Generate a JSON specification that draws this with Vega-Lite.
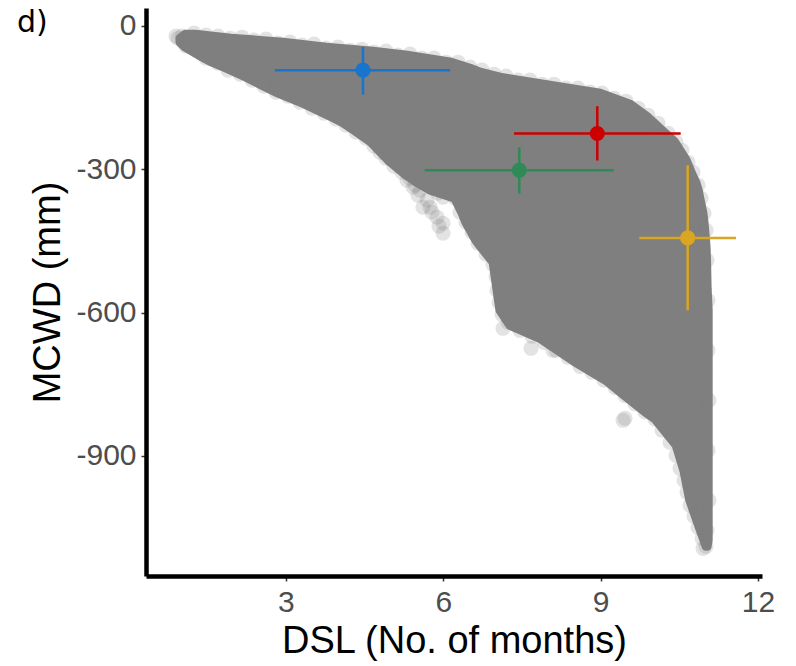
{
  "$schema": "https://vega.github.io/schema/vega-lite/v6.json",
  "width": 616,
  "height": 568,
  "padding": {"left": 146, "top": 8, "right": 34, "bottom": 90},
  "autosize": {"type": "none"},
  "background": "white",
  "title": {
    "text": "d)",
    "anchor": "start",
    "frame": "group",
    "orient": "top",
    "offset": 0,
    "dx": -129,
    "dy": 54,
    "baseline": "alphabetic",
    "font": "DejaVu Sans",
    "fontSize": 30,
    "fontWeight": "normal",
    "color": "black"
  },
  "datasets": {
    "cloud": [
      {"mcwd": -17.8, "lo": 1.08, "hi": 1.27},
      {"mcwd": -26.2, "lo": 0.98, "hi": 1.95},
      {"mcwd": -34.5, "lo": 0.98, "hi": 2.94},
      {"mcwd": -45.0, "lo": 1.08, "hi": 3.77},
      {"mcwd": -53.3, "lo": 1.21, "hi": 4.66},
      {"mcwd": -61.7, "lo": 1.34, "hi": 5.31},
      {"mcwd": -76.4, "lo": 1.59, "hi": 6.15},
      {"mcwd": -88.9, "lo": 1.86, "hi": 6.51},
      {"mcwd": -97.3, "lo": 2.03, "hi": 6.70},
      {"mcwd": -107.7, "lo": 2.24, "hi": 7.08},
      {"mcwd": -124.5, "lo": 2.54, "hi": 8.03},
      {"mcwd": -141.2, "lo": 2.85, "hi": 8.99},
      {"mcwd": -164.2, "lo": 3.36, "hi": 9.56},
      {"mcwd": -191.4, "lo": 3.88, "hi": 9.90},
      {"mcwd": -201.9, "lo": 4.07, "hi": 10.00},
      {"mcwd": -218.6, "lo": 4.30, "hi": 10.17},
      {"mcwd": -241.6, "lo": 4.60, "hi": 10.40},
      {"mcwd": -260.5, "lo": 4.77, "hi": 10.51},
      {"mcwd": -281.4, "lo": 4.95, "hi": 10.63},
      {"mcwd": -310.7, "lo": 5.27, "hi": 10.74},
      {"mcwd": -329.5, "lo": 5.52, "hi": 10.82},
      {"mcwd": -344.1, "lo": 5.75, "hi": 10.86},
      {"mcwd": -360.9, "lo": 6.22, "hi": 10.89},
      {"mcwd": -392.3, "lo": 6.36, "hi": 10.95},
      {"mcwd": -411.1, "lo": 6.43, "hi": 10.97},
      {"mcwd": -448.7, "lo": 6.62, "hi": 11.00},
      {"mcwd": -463.4, "lo": 6.72, "hi": 11.01},
      {"mcwd": -494.8, "lo": 6.95, "hi": 11.02},
      {"mcwd": -549.2, "lo": 7.02, "hi": 11.03},
      {"mcwd": -595.2, "lo": 7.08, "hi": 11.05},
      {"mcwd": -626.6, "lo": 7.27, "hi": 11.05},
      {"mcwd": -653.8, "lo": 7.84, "hi": 11.05},
      {"mcwd": -701.9, "lo": 8.49, "hi": 11.05},
      {"mcwd": -743.7, "lo": 9.12, "hi": 11.05},
      {"mcwd": -774.0, "lo": 9.46, "hi": 11.05},
      {"mcwd": -808.0, "lo": 9.85, "hi": 11.05},
      {"mcwd": -822.9, "lo": 10.04, "hi": 11.05},
      {"mcwd": -877.6, "lo": 10.44, "hi": 11.05},
      {"mcwd": -932.0, "lo": 10.59, "hi": 11.05},
      {"mcwd": -992.7, "lo": 10.70, "hi": 11.05},
      {"mcwd": -1049.2, "lo": 10.88, "hi": 11.05},
      {"mcwd": -1076.4, "lo": 10.97, "hi": 11.05},
      {"mcwd": -1088.9, "lo": 11.01, "hi": 11.03}
    ],
    "edge": [
      {"dsl": 1.018, "mcwd": -22.0}, {"dsl": 1.247, "mcwd": -15.7}, {"dsl": 1.476, "mcwd": -19.9},
      {"dsl": 1.704, "mcwd": -22.0}, {"dsl": 1.933, "mcwd": -26.2}, {"dsl": 2.162, "mcwd": -24.1},
      {"dsl": 2.391, "mcwd": -30.3}, {"dsl": 2.620, "mcwd": -28.2}, {"dsl": 2.848, "mcwd": -36.6},
      {"dsl": 3.077, "mcwd": -34.5}, {"dsl": 3.306, "mcwd": -40.8}, {"dsl": 3.535, "mcwd": -38.7},
      {"dsl": 3.764, "mcwd": -47.1}, {"dsl": 3.992, "mcwd": -45.0}, {"dsl": 4.221, "mcwd": -51.3},
      {"dsl": 4.450, "mcwd": -49.2}, {"dsl": 4.679, "mcwd": -55.4}, {"dsl": 4.908, "mcwd": -53.3},
      {"dsl": 5.136, "mcwd": -61.7}, {"dsl": 5.365, "mcwd": -59.6}, {"dsl": 5.594, "mcwd": -68.0},
      {"dsl": 5.823, "mcwd": -68.0}, {"dsl": 6.051, "mcwd": -76.4}, {"dsl": 6.280, "mcwd": -76.4},
      {"dsl": 6.509, "mcwd": -86.8}, {"dsl": 6.738, "mcwd": -93.1}, {"dsl": 6.967, "mcwd": -101.5},
      {"dsl": 7.195, "mcwd": -105.6}, {"dsl": 7.424, "mcwd": -114.0}, {"dsl": 7.653, "mcwd": -114.0},
      {"dsl": 7.882, "mcwd": -122.4}, {"dsl": 8.110, "mcwd": -122.4}, {"dsl": 8.339, "mcwd": -130.7},
      {"dsl": 8.568, "mcwd": -130.7}, {"dsl": 8.797, "mcwd": -139.1}, {"dsl": 9.026, "mcwd": -141.2},
      {"dsl": 9.254, "mcwd": -151.7}, {"dsl": 9.483, "mcwd": -158.0}, {"dsl": 9.712, "mcwd": -172.6},
      {"dsl": 9.903, "mcwd": -187.3}, {"dsl": 10.093, "mcwd": -204.0}, {"dsl": 10.284, "mcwd": -224.9},
      {"dsl": 10.437, "mcwd": -243.7}, {"dsl": 10.551, "mcwd": -260.5}, {"dsl": 10.666, "mcwd": -285.6},
      {"dsl": 10.761, "mcwd": -306.5}, {"dsl": 10.857, "mcwd": -333.7}, {"dsl": 10.914, "mcwd": -360.9},
      {"dsl": 10.971, "mcwd": -392.3}, {"dsl": 11.009, "mcwd": -427.8},
      {"dsl": 11.028, "mcwd": -490.6}, {"dsl": 11.047, "mcwd": -574.3}, {"dsl": 11.047, "mcwd": -678.9},
      {"dsl": 11.066, "mcwd": -783.5}, {"dsl": 11.047, "mcwd": -888.1}, {"dsl": 11.066, "mcwd": -992.7},
      {"dsl": 11.028, "mcwd": -1055.5}, {"dsl": 11.009, "mcwd": -1089.0}, {"dsl": 10.952, "mcwd": -1093.1},
      {"dsl": 0.942, "mcwd": -26.2}, {"dsl": 0.904, "mcwd": -22.0}, {"dsl": 1.094, "mcwd": -42.9},
      {"dsl": 1.285, "mcwd": -51.3}, {"dsl": 1.476, "mcwd": -68.0}, {"dsl": 1.704, "mcwd": -78.5},
      {"dsl": 1.895, "mcwd": -93.1}, {"dsl": 2.124, "mcwd": -101.5}, {"dsl": 2.353, "mcwd": -114.0},
      {"dsl": 2.581, "mcwd": -126.6}, {"dsl": 2.810, "mcwd": -139.1}, {"dsl": 3.039, "mcwd": -147.5},
      {"dsl": 3.268, "mcwd": -160.0}, {"dsl": 3.497, "mcwd": -172.6}, {"dsl": 3.726, "mcwd": -183.1},
      {"dsl": 3.954, "mcwd": -195.6}, {"dsl": 4.145, "mcwd": -208.2}, {"dsl": 4.336, "mcwd": -222.8},
      {"dsl": 4.526, "mcwd": -235.4}, {"dsl": 4.679, "mcwd": -252.1}, {"dsl": 4.793, "mcwd": -264.7},
      {"dsl": 4.908, "mcwd": -277.2}, {"dsl": 5.060, "mcwd": -294.0}, {"dsl": 5.213, "mcwd": -306.5},
      {"dsl": 5.308, "mcwd": -323.2}, {"dsl": 5.423, "mcwd": -337.9}, {"dsl": 5.556, "mcwd": -344.1},
      {"dsl": 5.690, "mcwd": -365.1}, {"dsl": 5.747, "mcwd": -379.7}, {"dsl": 5.880, "mcwd": -400.6},
      {"dsl": 5.995, "mcwd": -413.2}, {"dsl": 5.995, "mcwd": -434.1}, {"dsl": 5.899, "mcwd": -350.4},
      {"dsl": 5.995, "mcwd": -358.8}, {"dsl": 5.613, "mcwd": -379.7}, {"dsl": 5.461, "mcwd": -333.7},
      {"dsl": 5.785, "mcwd": -390.2}, {"dsl": 5.918, "mcwd": -419.4}, {"dsl": 5.365, "mcwd": -319.0},
      {"dsl": 5.518, "mcwd": -354.6},
      {"dsl": 6.223, "mcwd": -360.9}, {"dsl": 6.318, "mcwd": -390.2}, {"dsl": 6.433, "mcwd": -411.1},
      {"dsl": 6.547, "mcwd": -432.0}, {"dsl": 6.661, "mcwd": -455.0}, {"dsl": 6.814, "mcwd": -478.0},
      {"dsl": 6.948, "mcwd": -499.0}, {"dsl": 7.005, "mcwd": -524.1}, {"dsl": 7.024, "mcwd": -553.4},
      {"dsl": 7.062, "mcwd": -578.5}, {"dsl": 7.119, "mcwd": -603.6}, {"dsl": 7.234, "mcwd": -620.3},
      {"dsl": 7.462, "mcwd": -637.1}, {"dsl": 7.691, "mcwd": -649.6}, {"dsl": 7.920, "mcwd": -662.2},
      {"dsl": 8.149, "mcwd": -678.9}, {"dsl": 8.377, "mcwd": -693.5}, {"dsl": 8.606, "mcwd": -712.4},
      {"dsl": 8.835, "mcwd": -724.9}, {"dsl": 9.064, "mcwd": -741.6}, {"dsl": 9.274, "mcwd": -757.0},
      {"dsl": 9.464, "mcwd": -774.0}, {"dsl": 9.655, "mcwd": -791.0}, {"dsl": 9.845, "mcwd": -808.0},
      {"dsl": 10.036, "mcwd": -822.9}, {"dsl": 10.170, "mcwd": -846.2}, {"dsl": 10.322, "mcwd": -871.3},
      {"dsl": 10.437, "mcwd": -898.5}, {"dsl": 10.513, "mcwd": -925.7}, {"dsl": 10.589, "mcwd": -950.8},
      {"dsl": 10.647, "mcwd": -975.9}, {"dsl": 10.704, "mcwd": -1003.1}, {"dsl": 10.780, "mcwd": -1026.1},
      {"dsl": 10.857, "mcwd": -1049.2}, {"dsl": 10.933, "mcwd": -1072.2},
      {"dsl": 7.672, "mcwd": -674.7}, {"dsl": 8.091, "mcwd": -678.9}, {"dsl": 7.138, "mcwd": -632.9},
      {"dsl": 9.426, "mcwd": -825.3}, {"dsl": 9.464, "mcwd": -821.1}
    ],
    "means": [
      {"site": "blue", "dsl": 4.469, "mcwd": -93.1, "dsl_lo": 2.79, "dsl_hi": 6.13, "mcwd_lo": -143.9, "mcwd_hi": -44.3},
      {"site": "green", "dsl": 7.449, "mcwd": -302.3, "dsl_lo": 5.645, "dsl_hi": 9.249, "mcwd_lo": -351.0, "mcwd_hi": -254.2},
      {"site": "red", "dsl": 8.936, "mcwd": -225.5, "dsl_lo": 7.348, "dsl_hi": 10.526, "mcwd_lo": -282.0, "mcwd_hi": -168.4},
      {"site": "yellow", "dsl": 10.659, "mcwd": -443.9, "dsl_lo": 9.737, "dsl_hi": 11.58, "mcwd_lo": -595.2, "mcwd_hi": -291.8}
    ]
  },
  "layer": [
    {
      "data": {"name": "cloud"},
      "mark": {"type": "area", "orient": "horizontal", "color": "#7F7F7F", "opacity": 1,
               "stroke": "#7F7F7F", "strokeWidth": 9, "strokeJoin": "round", "strokeCap": "round"},
      "encoding": {
        "y": {"field": "mcwd", "type": "quantitative", "title": "MCWD (mm)",
              "scale": {"domain": [-1151, 37], "nice": false, "zero": false},
              "axis": {"values": [0, -300, -600, -900], "labelExpr": "toString(datum.value)"}},
        "x": {"field": "lo", "type": "quantitative", "title": "DSL (No. of months)",
              "scale": {"domain": [0.332, 12.076], "nice": false, "zero": false},
              "axis": {"values": [3, 6, 9, 12]}},
        "x2": {"field": "hi"}
      }
    },
    {
      "data": {"name": "edge"},
      "mark": {"type": "circle", "color": "#7F7F7F", "opacity": 0.22, "size": 230},
      "encoding": {
        "x": {"field": "dsl", "type": "quantitative", "title": "DSL (No. of months)"},
        "y": {"field": "mcwd", "type": "quantitative", "title": "MCWD (mm)"}
      }
    },
    {
      "data": {"name": "means"},
      "mark": {"type": "rule", "strokeWidth": 2.5},
      "encoding": {
        "x": {"field": "dsl_lo", "type": "quantitative", "title": "DSL (No. of months)"},
        "x2": {"field": "dsl_hi"},
        "y": {"field": "mcwd", "type": "quantitative", "title": "MCWD (mm)"},
        "color": {"field": "site", "type": "nominal", "legend": null,
                  "scale": {"domain": ["blue", "green", "red", "yellow"], "range": ["#1874CD", "#2E8B57", "#CD0000", "#DAA520"]}}
      }
    },
    {
      "data": {"name": "means"},
      "mark": {"type": "rule", "strokeWidth": 2.5},
      "encoding": {
        "y": {"field": "mcwd_lo", "type": "quantitative", "title": "MCWD (mm)"},
        "y2": {"field": "mcwd_hi"},
        "x": {"field": "dsl", "type": "quantitative", "title": "DSL (No. of months)"},
        "color": {"field": "site", "type": "nominal", "legend": null}
      }
    },
    {
      "data": {"name": "means"},
      "mark": {"type": "circle", "opacity": 1, "size": 230},
      "encoding": {
        "x": {"field": "dsl", "type": "quantitative", "title": "DSL (No. of months)"},
        "y": {"field": "mcwd", "type": "quantitative", "title": "MCWD (mm)"},
        "color": {"field": "site", "type": "nominal", "legend": null}
      }
    }
  ],
  "config": {
    "view": {"stroke": null},
    "axis": {
      "grid": false,
      "domainColor": "black",
      "domainWidth": 4.5,
      "tickColor": "#333333",
      "tickWidth": 1.5,
      "tickSize": 5,
      "labelFont": "Liberation Sans",
      "labelFontSize": 30,
      "labelColor": "#4D4D4D",
      "titleFont": "Liberation Sans",
      "titleFontSize": 38,
      "titleFontWeight": "normal",
      "titleColor": "black"
    },
    "axisX": {"labelPadding": 6, "titlePadding": 5},
    "axisY": {"labelPadding": 5, "titlePadding": 8}
  }
}
